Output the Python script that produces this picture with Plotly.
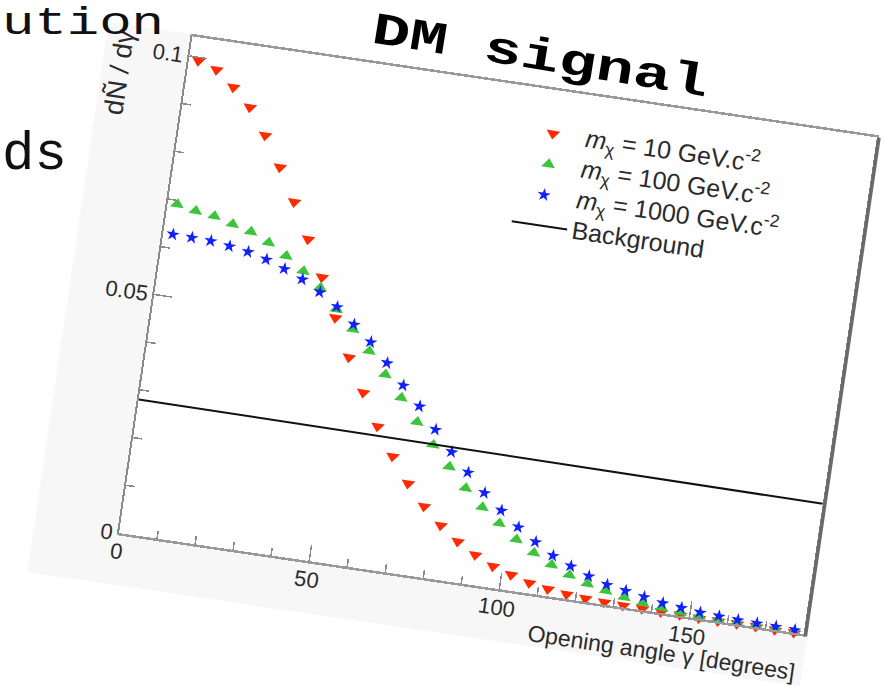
import json
import plotly.graph_objects as go

# ---------------- data ----------------
angle = [2.5, 7.5, 12.5, 17.5, 22.5, 27.5, 32.5, 37.5, 42.5, 47.5, 52.5, 57.5,
         62.5, 67.5, 72.5, 77.5, 82.5, 87.5, 92.5, 97.5, 102.5, 107.5, 112.5, 117.5,
         122.5, 127.5, 132.5, 137.5, 142.5, 147.5, 152.5, 157.5, 162.5, 167.5, 172.5, 177.5]

m10 = [0.0993, 0.0980, 0.0949, 0.0913, 0.0860, 0.0799, 0.0732, 0.0660, 0.0586, 0.0507,
       0.0430, 0.0362, 0.0297, 0.0240, 0.0189, 0.0147, 0.0113, 0.0085, 0.0063, 0.0045,
       0.0033, 0.0022, 0.0015, 0.0010, 0.0007, 0.0005, 0.0004, 0.0003, 0.0002, 0.0002,
       0.0001, 0.0001, 0.0001, 0.0001, 0.0000, 0.0000]

m100 = [0.0692, 0.0684, 0.0679, 0.0668, 0.0658, 0.0641, 0.0619, 0.0593, 0.0564, 0.0525,
        0.0489, 0.0449, 0.0406, 0.0363, 0.0318, 0.0276, 0.0236, 0.0197, 0.0163, 0.0135,
        0.0107, 0.0085, 0.0066, 0.0050, 0.0038, 0.0029, 0.0021, 0.0015, 0.0011, 0.0008,
        0.0006, 0.0005, 0.0004, 0.0003, 0.0003, 0.0002]

m1000 = [0.0629, 0.0628, 0.0627, 0.0622, 0.0616, 0.0606, 0.0592, 0.0576, 0.0555, 0.0530,
         0.0499, 0.0468, 0.0430, 0.0389, 0.0351, 0.0308, 0.0267, 0.0230, 0.0193, 0.0162,
         0.0133, 0.0108, 0.0085, 0.0069, 0.0054, 0.0042, 0.0035, 0.0028, 0.0021, 0.0017,
         0.0013, 0.0011, 0.0009, 0.0008, 0.0007, 0.0006]

bg_angle = [0, 180]
bg_value = [0.0280, 0.0273]

series_names = ["<i>m</i><sub>χ</sub> = 10 GeV.c<sup>-2</sup>",
                "<i>m</i><sub>χ</sub> = 100 GeV.c<sup>-2</sup>",
                "<i>m</i><sub>χ</sub> = 1000 GeV.c<sup>-2</sup>",
                "Background"]

# ---------------- geometry ----------------
FIG_W, FIG_H = 886, 687
OX, OY = 119, 533          # axis origin on screen (rotation centre)
PW, PH = 692, 502          # plot area size (unrotated)
ROT = 8.4                  # clockwise rotation of the pasted chart

def px(X):
    return (X - OX) / PW

def py(Y):
    return (OY - Y) / PH

SANS = "Liberation Sans"
MONO = "Liberation Mono"
TXT = "#2b2b2b"

def leg(name):
    return "<span style='font-size:25px'>" + name + "</span>"

fig = go.Figure()
fig.add_trace(go.Scatter(x=angle, y=m10, mode="markers", name=leg(series_names[0]),
                         cliponaxis=False,
                         marker=dict(symbol="triangle-down", size=12, color="#ff2a00")))
fig.add_trace(go.Scatter(x=angle, y=m100, mode="markers", name=leg(series_names[1]),
                         cliponaxis=False,
                         marker=dict(symbol="triangle-up", size=12, color="#3cc43c")))
fig.add_trace(go.Scatter(x=angle, y=m1000, mode="markers", name=leg(series_names[2]),
                         cliponaxis=False,
                         marker=dict(symbol="star", size=10, color="#1020ff")))
fig.add_trace(go.Scatter(x=bg_angle, y=bg_value, mode="lines", name=leg(series_names[3]),
                         line=dict(color="#111111", width=2)))

axis_common = dict(showgrid=False, zeroline=False, showline=True, mirror=True,
                   ticks="inside", tickcolor="#8a8a8a", tickwidth=1.5,
                   tickfont=dict(family=SANS, size=22, color=TXT))

fig.update_xaxes(range=[0, 180], dtick=50, tick0=0, ticklen=16,
                 linecolor="#999999", linewidth=2.5, ticklabelstandoff=-3,
                 minor=dict(dtick=10, ticklen=8, ticks="inside", tickcolor="#8a8a8a",
                            tickwidth=1.5, showgrid=False),
                 **axis_common)
fig.update_yaxes(range=[0, 0.1041], dtick=0.05, tick0=0, ticklen=18,
                 linecolor="#8a8a8a", linewidth=2,
                 minor=dict(dtick=0.01, ticklen=9, ticks="inside", tickcolor="#8a8a8a",
                            tickwidth=1.5, showgrid=False),
                 **axis_common)

shapes = [
    # the pasted picture's light background
    dict(type="rect", xref="paper", yref="paper", layer="below",
         x0=-85 / PW, x1=696 / PW, y0=-52 / PH, y1=504 / PH,
         fillcolor="#f7f7f7", line=dict(width=0)),
    # white frame interior
    dict(type="rect", xref="paper", yref="paper", layer="below",
         x0=0, x1=1, y0=0, y1=1, fillcolor="#fefefe", line=dict(width=0)),
    # frame shadow on the right
    dict(type="line", xref="paper", yref="paper", layer="above",
         x0=1.003, x1=1.003, y0=-0.004, y1=1, line=dict(color="#6a6a6a", width=3.5)),
]

chart_annotations = [
    dict(text="dÑ / dγ", xref="paper", yref="paper", x=0, y=1,
         xanchor="center", yanchor="top", xshift=-68, yshift=-1, textangle=-90,
         showarrow=False, font=dict(family=SANS, size=27, color=TXT)),
    dict(text="Opening angle γ [degrees]", xref="paper", yref="paper", x=1, y=0,
         xanchor="right", yanchor="middle", xshift=-1, yshift=-39,
         showarrow=False, font=dict(family=SANS, size=23, color=TXT)),
]

# slide texts: (text, font size, bold, anchor x px, centre y px, anchor, angle, v-squash)
slide_texts = [
    ("ution", 54, False, 0, 23, "left", 0, 0.72),
    ("ds", 54, False, 0, 154, "left", 0, 1.0),
    ("DM signal", 63, True, 540, 58, "center", 9.2, 0.72),
]
slide_annotations = []
slide_fx = []
n_chart = len(chart_annotations)
for i, (t, fs, bold, ax, ay, anc, ang, k) in enumerate(slide_texts):
    slide_annotations.append(dict(
        text="<b>" + t + "</b>" if bold else t,
        xref="paper", yref="paper", x=px(ax), y=py(ay),
        xanchor=anc, yanchor="middle", showarrow=False,
        font=dict(family=MONO, size=fs, color="#000000" if bold else "#111111")))
    slide_fx.append([n_chart + i, ax, ay, ang, k])

ITEMW = 56
fig.update_layout(
    width=FIG_W, height=FIG_H, autosize=False,
    margin=dict(l=OX, r=FIG_W - OX - PW, t=OY - PH, b=FIG_H - OY),
    paper_bgcolor="#ffffff", plot_bgcolor="#fefefe",
    showlegend=True,
    legend=dict(x=(404 - ITEMW - 10) / PW, y=1 - 23 / PH, xanchor="left", yanchor="top",
                bgcolor="rgba(0,0,0,0)", borderwidth=0, itemwidth=ITEMW,
                font=dict(family=SANS, size=21.5, color=TXT)),
    shapes=shapes,
    annotations=chart_annotations + slide_annotations,
)

post = """
var gd = document.getElementById('{plot_id}');
var T = 'rotate(__ROT__ __OX__ __OY__) ';
var SLIDE = __SLIDE__;
function rot(el){ el.setAttribute('transform', T + (el.getAttribute('transform') || '')); }
var svgs = gd.querySelectorAll('svg.main-svg');
Array.prototype.forEach.call(svgs[0].children, function(el){
    if (el.tagName.toLowerCase() === 'g') { rot(el); }
});
if (svgs.length > 1) {
    Array.prototype.forEach.call(svgs[1].children, function(el){
        if (el.tagName.toLowerCase() !== 'g') { return; }
        var cls = el.getAttribute('class') || '';
        if (cls.indexOf('infolayer') >= 0) { return; }
        rot(el);
    });
}
gd.querySelectorAll('.infolayer > .legend').forEach(rot);
gd.querySelectorAll('.infolayer .annotation').forEach(function(a){
    var i = +a.getAttribute('data-index');
    if (i < __NCHART__) { rot(a); return; }
    SLIDE.forEach(function(s){
        if (s[0] !== i) { return; }
        var tr = 'translate(' + s[1] + ' ' + s[2] + ') rotate(' + s[3] + ') scale(1 ' + s[4] +
                 ') translate(' + (-s[1]) + ' ' + (-s[2]) + ') ';
        a.setAttribute('transform', tr + (a.getAttribute('transform') || ''));
    });
});
""".replace("__ROT__", str(ROT)).replace("__OX__", str(OX)).replace("__OY__", str(OY)) \
   .replace("__NCHART__", str(n_chart)).replace("__SLIDE__", json.dumps(slide_fx))

fig.write_html("out.html", config={"staticPlot": True}, post_script=post)
